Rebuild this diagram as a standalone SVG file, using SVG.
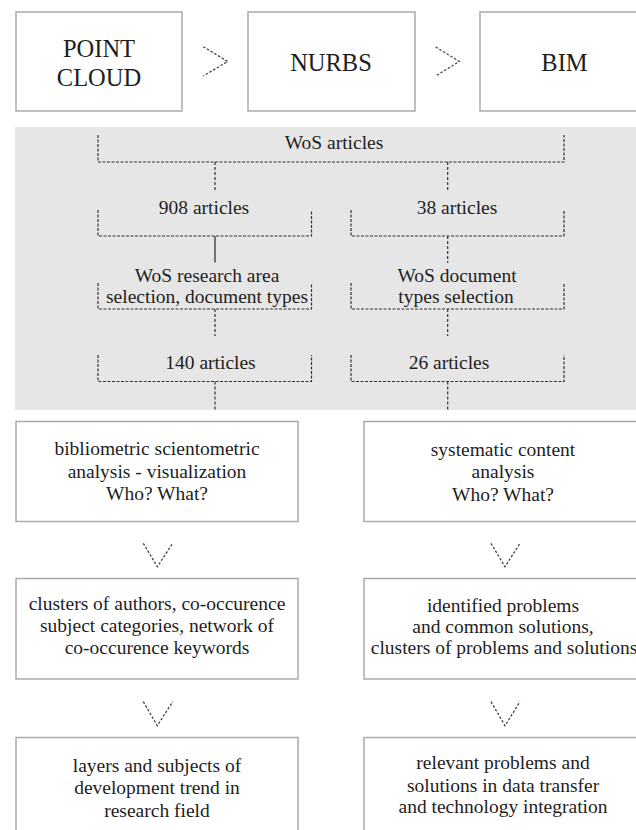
<svg xmlns="http://www.w3.org/2000/svg" width="636" height="830" viewBox="0 0 636 830">
<rect x="0" y="0" width="636" height="830" fill="#ffffff"/>
<rect id="wos-panel" x="15" y="127" width="621" height="283" fill="#e6e6e6"/>
<g fill="#1e1e1e" text-anchor="middle">
<g id="point-cloud">
<rect x="16" y="12" width="166" height="99" fill="#ffffff" stroke="#ababab" stroke-width="1.5"/>
<text font-family="Liberation Serif" font-size="24.5" x="99" y="56.5">POINT</text>
<text font-family="Liberation Serif" font-size="24.5" x="99" y="85.5">CLOUD</text>
</g>
<g id="nurbs">
<rect x="248" y="12" width="167" height="99" fill="#ffffff" stroke="#ababab" stroke-width="1.5"/>
<text font-family="Liberation Serif" font-size="24.5" x="331" y="70.5">NURBS</text>
</g>
<g id="bim">
<rect x="480" y="12" width="170" height="99" fill="#ffffff" stroke="#ababab" stroke-width="1.5"/>
<text font-family="Liberation Serif" font-size="24.5" x="564.5" y="70.5">BIM</text>
</g>

<g id="wos-articles">
<path d="M98,135 V162 H564 V135" fill="none" stroke="#333333" stroke-width="1.2" stroke-dasharray="3 1.5"/>
<text font-family="Liberation Serif" font-size="19.5" x="334" y="149">WoS articles</text>
</g>
<g id="articles-908">
<path d="M98,210 V236 H311.5 V210" fill="none" stroke="#333333" stroke-width="1.2" stroke-dasharray="3 1.5"/>
<text font-family="Liberation Serif" font-size="19.5" x="204" y="214">908 articles</text>
</g>
<g id="articles-38">
<path d="M351,210 V236 H564 V210" fill="none" stroke="#333333" stroke-width="1.2" stroke-dasharray="3 1.5"/>
<text font-family="Liberation Serif" font-size="19.5" x="457" y="214">38 articles</text>
</g>
<g id="research-area">
<path d="M98,283 V309 H311.5 V283" fill="none" stroke="#333333" stroke-width="1.2" stroke-dasharray="3 1.5"/>
<text font-family="Liberation Serif" font-size="19.5" x="207" y="281.5">WoS research area</text>
<text font-family="Liberation Serif" font-size="19.5" x="207" y="302.5">selection, document types</text>
</g>
<g id="doc-types">
<path d="M351,283 V309 H564 V283" fill="none" stroke="#333333" stroke-width="1.2" stroke-dasharray="3 1.5"/>
<text font-family="Liberation Serif" font-size="19.5" x="457" y="281.5">WoS document</text>
<text font-family="Liberation Serif" font-size="19.5" x="456" y="303">types selection</text>
</g>
<g id="articles-140">
<path d="M98,355 V381.5 H311.5 V355" fill="none" stroke="#333333" stroke-width="1.2" stroke-dasharray="3 1.5"/>
<text font-family="Liberation Serif" font-size="19.5" x="210.5" y="369">140 articles</text>
</g>
<g id="articles-26">
<path d="M351,355 V381.5 H564 V355" fill="none" stroke="#333333" stroke-width="1.2" stroke-dasharray="3 1.5"/>
<text font-family="Liberation Serif" font-size="19.5" x="449" y="369">26 articles</text>
</g>

<g id="biblio">
<rect x="16" y="421.5" width="282" height="100" fill="#ffffff" stroke="#ababab" stroke-width="1.5"/>
<text font-family="Liberation Serif" font-size="19.5" x="157" y="455">bibliometric scientometric</text>
<text font-family="Liberation Serif" font-size="19.5" x="157" y="477.5">analysis - visualization</text>
<text font-family="Liberation Serif" font-size="19.5" x="157" y="500">Who? What?</text>
</g>
<g id="systematic">
<rect x="364" y="421.5" width="285" height="100" fill="#ffffff" stroke="#ababab" stroke-width="1.5"/>
<text font-family="Liberation Serif" font-size="19.5" x="503" y="455.5">systematic content</text>
<text font-family="Liberation Serif" font-size="19.5" x="503" y="478">analysis</text>
<text font-family="Liberation Serif" font-size="19.5" x="503" y="500.5">Who? What?</text>
</g>
<g id="clusters">
<rect x="16" y="578.5" width="282" height="100.5" fill="#ffffff" stroke="#ababab" stroke-width="1.5"/>
<text font-family="Liberation Serif" font-size="19.5" x="157" y="610">clusters of authors, co-occurence</text>
<text font-family="Liberation Serif" font-size="19.5" x="157" y="631.5">subject categories, network of</text>
<text font-family="Liberation Serif" font-size="19.5" x="157" y="654">co-occurence keywords</text>
</g>
<g id="identified">
<rect x="364" y="578.5" width="285" height="100.5" fill="#ffffff" stroke="#ababab" stroke-width="1.5"/>
<text font-family="Liberation Serif" font-size="19.5" x="503" y="611.5">identified problems</text>
<text font-family="Liberation Serif" font-size="19.5" x="503" y="632.5">and common solutions,</text>
<text font-family="Liberation Serif" font-size="19.5" x="504" y="654">clusters of problems and solutions</text>
</g>
<g id="layers">
<rect x="16" y="737.5" width="282" height="110" fill="#ffffff" stroke="#ababab" stroke-width="1.5"/>
<text font-family="Liberation Serif" font-size="19.5" x="157" y="771.5">layers and subjects of</text>
<text font-family="Liberation Serif" font-size="19.5" x="157" y="794">development trend in</text>
<text font-family="Liberation Serif" font-size="19.5" x="157" y="817">research field</text>
</g>
<g id="relevant">
<rect x="364" y="737.5" width="285" height="110" fill="#ffffff" stroke="#ababab" stroke-width="1.5"/>
<text font-family="Liberation Serif" font-size="19.5" x="503" y="768.5">relevant problems and</text>
<text font-family="Liberation Serif" font-size="19.5" x="503" y="791.5">solutions in data transfer</text>
<text font-family="Liberation Serif" font-size="19.5" x="503" y="813">and technology integration</text>
</g>
</g>
<g id="connectors" fill="none" stroke="#333333" stroke-width="1.2">
<g stroke="#444444" stroke-width="1.3" stroke-dasharray="2.5 1.8">
<path d="M203.3,46.7 L227.7,61.5 L203.3,76"/>
<path d="M435.7,47 L459.3,61.5 L435.7,76"/>
<path d="M143.3,543.3 L157.3,566.7 L172.7,543.3"/>
<path d="M143.3,701.7 L157.3,725.7 L172.7,701.7"/>
<path d="M491,543.3 L505,566.7 L520,543.3"/>
<path d="M491,701.7 L505,725.7 L520,701.7"/>
</g>
<g stroke-dasharray="3 2">
<path d="M215,162 V190 M447.7,162 V190"/>
<path d="M447.7,236 V263"/>
<path d="M215,309 V336 M447.7,309 V336"/>
<path d="M215,381.5 V410 M447.7,381.5 V410"/>
</g>
<path d="M215,236 V262.5" stroke-width="1.3"/>
</g>
</svg>
